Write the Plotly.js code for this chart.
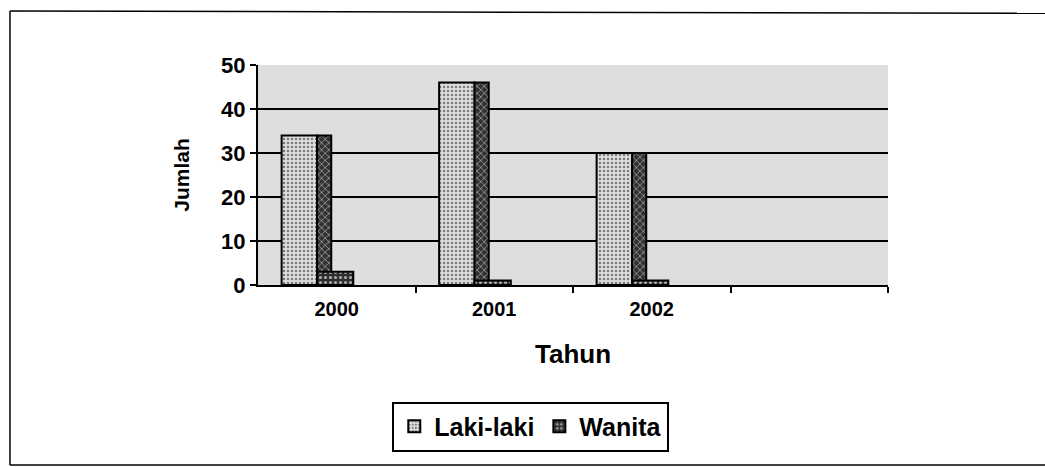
<!DOCTYPE html>
<html>
<head>
<meta charset="utf-8">
<script src="https://cdn.plot.ly/plotly-3.0.1.min.js"></script>
<style>html,body{margin:0;padding:0;background:#fff;}#chart{width:1045px;height:467px;}</style>
</head>
<body>
<div id="chart"></div>
<script>
// Data
const years = ['2000', '2001', '2002'];
const lakiLaki = [34, 46, 30];
const wanita = [3, 1, 1];
const yTickVals = [0, 10, 20, 30, 40, 50];
const gridVals = [10, 20, 30, 40];

const xPos = years.map((_, i) => i);
const FONT = 'Liberation Sans, Arial, sans-serif';

const traces = [
  {
    type: 'bar', name: 'Laki-laki', x: xPos, y: lakiLaki,
    offset: -0.35, width: 0.225,
    marker: { color: '#d6d6d6', line: { color: '#000', width: 2 },
      pattern: { shape: '.', fgcolor: '#7a7a7a', bgcolor: '#dedede', size: 4, solidity: 0.3 } },
    hoverinfo: 'skip'
  },
  {
    type: 'bar', name: 'Laki-laki sisi', x: xPos, y: lakiLaki, showlegend: false,
    offset: -0.125, width: 0.09,
    marker: { color: '#3c3c3c', line: { color: '#000', width: 2 },
      pattern: { shape: 'x', fgcolor: '#9a9a9a', bgcolor: '#333', size: 5, solidity: 0.3 } },
    hoverinfo: 'skip'
  },
  {
    type: 'bar', name: 'Wanita', x: xPos, y: wanita,
    offset: -0.125, width: 0.23,
    marker: { color: '#2e2e2e', line: { color: '#000', width: 2 },
      pattern: { shape: '.', fgcolor: '#aaaaaa', bgcolor: '#2e2e2e', size: 5, solidity: 0.3 } },
    hoverinfo: 'skip'
  },
  {
    // invisible helper for gridline axis
    type: 'scatter', x: [0], y: [0], yaxis: 'y2', mode: 'markers',
    marker: { opacity: 0 }, showlegend: false, hoverinfo: 'skip'
  }
];

const frameLine = { color: '#000', width: 1.5 };

const layout = {
  width: 1045, height: 467,
  margin: { l: 258, r: 157, t: 65, b: 182 },
  paper_bgcolor: '#ffffff',
  plot_bgcolor: '#dedede',
  barmode: 'overlay',
  font: { family: FONT, color: '#000' },
  xaxis: {
    range: [-0.5, 3.5],
    tickvals: xPos, ticktext: years,
    ticks: '', showgrid: false, zeroline: false,
    showline: true, linecolor: '#000', linewidth: 2,
    tickfont: { family: FONT, size: 20, weight: 'bold' },
    ticklabelstandoff: 5,
    minor: { tickvals: [0.5, 1.5, 2.5, 3.5], ticks: 'outside', ticklen: 6, tickwidth: 2, tickcolor: '#000', showgrid: false },
    title: { text: 'Tahun', font: { family: FONT, size: 26, weight: 'bold' }, standoff: 26 },
    fixedrange: true
  },
  yaxis: {
    range: [0, 50],
    tickvals: yTickVals,
    ticks: 'outside', ticklen: 6, tickwidth: 2, tickcolor: '#000',
    showgrid: false, zeroline: false,
    showline: true, linecolor: '#000', linewidth: 2,
    tickfont: { family: FONT, size: 22, weight: 'bold' },
    title: { text: 'Jumlah', font: { family: FONT, size: 21, weight: 'bold' }, standoff: 26 },
    fixedrange: true
  },
  yaxis2: {
    overlaying: 'y', range: [0, 50], tickvals: gridVals,
    showgrid: true, gridcolor: '#000', gridwidth: 2,
    showticklabels: false, ticks: '', zeroline: false, showline: false,
    fixedrange: true
  },
  legend: {
    orientation: 'h', xref: 'paper', yref: 'paper',
    x: 0.433, xanchor: 'center', y: -0.53, yanchor: 'top',
    bordercolor: '#000', borderwidth: 2, bgcolor: '#fff',
    font: { family: FONT, size: 25, weight: 'bold' },
    itemwidth: 30, tracegroupgap: 0
  },
  shapes: [
    { type: 'line', xref: 'paper', yref: 'paper', x0: -0.3937, x1: 1.3, y0: 1.245, y1: 1.235, line: frameLine, layer: 'below' },
    { type: 'line', xref: 'paper', yref: 'paper', x0: -0.3937, x1: -0.3937, y0: 1.245, y1: -0.818, line: frameLine, layer: 'below' },
    { type: 'line', xref: 'paper', yref: 'paper', x0: -0.3937, x1: 1.3, y0: -0.818, y1: -0.818, line: frameLine, layer: 'below' }
  ]
};

Plotly.newPlot('chart', traces, layout, { displayModeBar: false, staticPlot: true });
</script>
</body>
</html>
